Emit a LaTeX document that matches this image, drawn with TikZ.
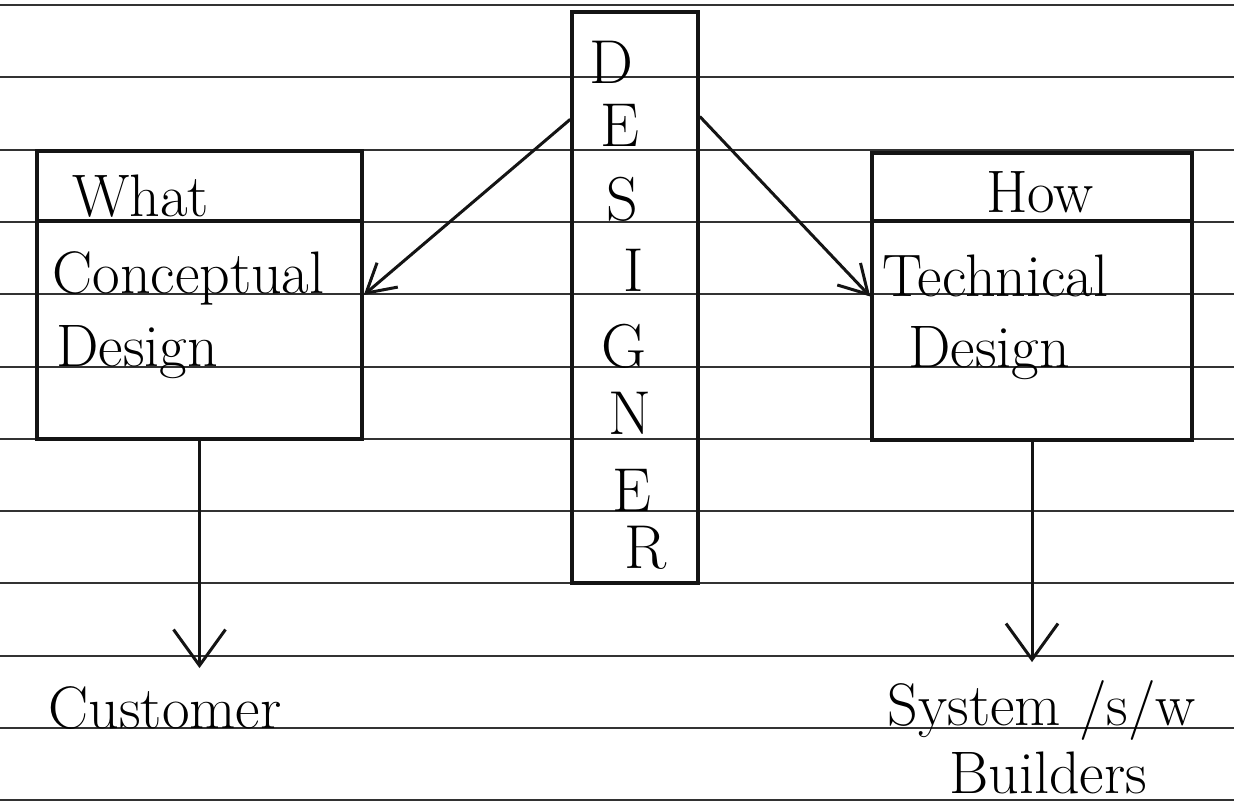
\documentclass[tikz,border=0pt]{standalone}
\usepackage{tikz}
\usetikzlibrary{arrows.meta,positioning,calc}
\definecolor{ink}{RGB}{20,20,20}
\definecolor{rule}{RGB}{50,50,50}
\tikzset{
  pane/.style={draw=ink,line width=1.8pt,inner sep=0pt},
  hand/.style={font=\fontsize{30}{34}\selectfont,inner sep=1pt,anchor=base},
  letter/.style={font=\fontsize{31}{31}\selectfont,inner sep=0pt},
  ruling/.style={draw=rule,line width=1pt},
  arr/.style={-{Straight Barb[length=14pt,width=16pt]},line width=1.5pt,ink},
  down/.style={-{Straight Barb[length=18pt,width=26pt]},line width=1.5pt,ink},
}

\begin{document}
\begin{tikzpicture}[x=0.5pt,y=-0.5pt]
  \useasboundingbox (0,0) rectangle (1234,802);
  % ruled paper
  \foreach \k in {0,...,11}
    \draw[ruling] (0,5+72.3*\k) -- (1234,5+72.3*\k);

  % designer column
  \node[pane,minimum width=63pt,minimum height=285.5pt] (des) at (635,297.5) {};
  \foreach \c/\x/\y [count=\i] in {D/611/62,E/620/125,S/622/199,I/634/270,
      G/624/346,N/630/413,E/632/490,R/646/548}
    \node[letter] (l\i) at (\x,\y) {\c};

  % what side
  \node[pane,minimum width=162.5pt,minimum height=144pt] (cd) at (199.5,295) {};
  \draw[pane] ($(cd.north west)!0.246!(cd.south west)$) -- ($(cd.north east)!0.246!(cd.south east)$);
  \node[hand,anchor=base west] (what) at (70,216) {What};
  \node[hand,anchor=base west] (cpt) at (50,293) {Conceptual};
  \node[hand,anchor=base west] (cdes) at (54,366) {Design};

  % how side
  \node[pane,minimum width=160pt,minimum height=143.5pt] (td) at (1032,296.5) {};
  \draw[pane] ($(td.north west)!0.24!(td.south west)$) -- ($(td.north east)!0.24!(td.south east)$);
  \node[hand] (how) at (1040,213) {How};
  \node[hand,anchor=base west] (tch) at (880,296) {Technical};
  \node[hand,anchor=base west] (tdes) at (906,367) {Design};

  % who gets it
  \node[hand,outer sep=8pt] (cust) at (165,728) {Customer};
  \node[hand,outer sep=8pt] (sys) at (1042,725) {System /s/w};
  \node[hand] (bld) at (1048,793) {Builders};

  \draw[arr] ($(des.north west)!0.19!(des.south west)$) -- (cd.east);
  \draw[arr] ($(des.north east)!0.185!(des.south east)$) -- (td.west);
  \draw[down] (cd.south) -- (cd.south |- cust.north);
  \draw[down] (td.south) -- (td.south |- sys.north);
\end{tikzpicture}
\end{document}
